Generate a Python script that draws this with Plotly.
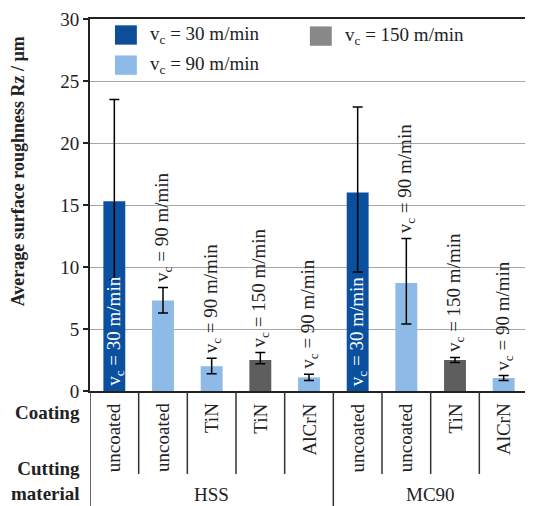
import plotly.graph_objects as go

# ---- data ----
coatings = ["uncoated", "uncoated", "TiN", "TiN", "AlCrN", "uncoated", "uncoated", "TiN", "AlCrN"]
materials = ["HSS", "MC90"]
material_counts = [5, 4]
speeds = [30, 90, 90, 150, 90, 30, 90, 150, 90]
rz = [15.3, 7.3, 2.0, 2.5, 1.1, 16.0, 8.7, 2.5, 1.05]
err_plus = [8.2, 1.05, 0.65, 0.6, 0.25, 6.9, 3.6, 0.2, 0.2]
err_minus = [6.3, 1.0, 0.6, 0.3, 0.25, 6.4, 3.3, 0.2, 0.2]
y_ticks = [0, 5, 10, 15, 20, 25, 30]

speed_colors = {30: "#0b509e", 90: "#8dbae6", 150: "#5e5e5e"}
legend_colors = {30: "#0e4e98", 90: "#8dbae6", 150: "#888888"}
FONT = "Liberation Serif"
FS = 19

x = list(range(len(rz)))
fig = go.Figure()
fig.add_trace(go.Bar(
    x=x, y=rz,
    marker=dict(color=[speed_colors[s] for s in speeds], line=dict(width=0)),
    width=0.45,
    error_y=dict(type="data", symmetric=False, array=err_plus, arrayminus=err_minus,
                 color="black", thickness=1.5, width=5),
    showlegend=False,
))

ann = []
shapes = []
# bar labels
for i, (v, s, ep) in enumerate(zip(rz, speeds, err_plus)):
    txt = f"v<sub>c</sub> = {s} m/min"
    if s == 30:
        ann.append(dict(x=i, y=0, xref="x", yref="y", text=txt, textangle=-90,
                        showarrow=False, xanchor="center", yanchor="bottom", yshift=3,
                        font=dict(family=FONT, size=FS, color="white")))
    else:
        ann.append(dict(x=i, y=v + ep, xref="x", yref="y", text=txt, textangle=-90,
                        showarrow=False, xanchor="center", yanchor="bottom", yshift=3,
                        font=dict(family=FONT, size=FS, color="#222")))
# coating labels
for i, c in enumerate(coatings):
    ann.append(dict(x=i, y=-0.028, xref="x", yref="paper", text=c, textangle=-90,
                    showarrow=False, xanchor="center", yanchor="top",
                    font=dict(family=FONT, size=FS, color="#222")))
# material labels and dividers
start = 0
for m, n in zip(materials, material_counts):
    ann.append(dict(x=start + (n - 1) / 2, y=-0.277, xref="x", yref="paper", text=m,
                    showarrow=False, xanchor="center", yanchor="middle",
                    font=dict(family=FONT, size=FS, color="#222")))
    start += n
bounds = []
acc = 0
for n in material_counts:
    acc += n
    bounds.append(acc - 0.5)
for i in range(len(rz) - 1):
    b = i + 0.5
    if b in bounds:
        continue
    shapes.append(dict(type="line", xref="x", yref="paper", x0=b, x1=b, y0=0, y1=-0.223,
                       line=dict(color="#333", width=1.5)))
for b in [-0.5] + bounds[:-1]:
    shapes.append(dict(type="line", xref="x", yref="paper", x0=b, x1=b, y0=0, y1=-0.34,
                       line=dict(color="#333", width=1.5)))

# row titles
ann.append(dict(x=-0.018, y=-0.058, xref="paper", yref="paper", text="<b>Coating</b>",
                showarrow=False, xanchor="right", yanchor="middle",
                font=dict(family=FONT, size=FS, color="#222")))
ann.append(dict(x=-0.018, y=-0.242, xref="paper", yref="paper", text="<b>Cutting<br>material</b>",
                showarrow=False, xanchor="right", yanchor="middle", align="right",
                font=dict(family=FONT, size=FS, color="#222")))
# y title
ann.append(dict(x=-0.164, y=0.591, xref="paper", yref="paper",
                text="<b>Average surface roughness Rz / µm</b>", textangle=-90,
                showarrow=False, xanchor="center", yanchor="middle",
                font=dict(family=FONT, size=18, color="#222")))

# manual legend
leg = [(30, 0.057, 0.957), (90, 0.057, 0.876), (150, 0.502, 0.954)]
for s, lx, ly in leg:
    shapes.append(dict(type="rect", xref="paper", yref="paper",
                       x0=lx, x1=lx + 0.05, y0=ly - 0.026, y1=ly + 0.026,
                       fillcolor=legend_colors[s], line=dict(width=0)))
    ann.append(dict(x=lx + 0.075, y=ly, xref="paper", yref="paper",
                    text=f"v<sub>c</sub> = {s} m/min", showarrow=False,
                    xanchor="left", yanchor="middle",
                    font=dict(family=FONT, size=FS, color="#222")))

fig.update_layout(
    width=525, height=498,
    margin=dict(l=82, r=5, t=11, b=115, autoexpand=False),
    paper_bgcolor="white", plot_bgcolor="white",
    annotations=ann, shapes=shapes,
    xaxis=dict(range=[-0.5, len(rz) - 0.5], showticklabels=False, ticks="",
               showgrid=False, zeroline=False, showline=True, mirror=True,
               linecolor="#222", linewidth=2),
    yaxis=dict(range=[0, 30], tickvals=y_ticks, ticks="outside", ticklen=5,
               tickcolor="#222", tickwidth=1.5,
               showgrid=True, gridcolor="#a6a6a6", gridwidth=1.2, zeroline=False,
               showline=True, linecolor="#222", linewidth=2,
               tickfont=dict(family=FONT, size=FS, color="#222")),
    bargap=0.55,
)

fig.write_html("out.html")
